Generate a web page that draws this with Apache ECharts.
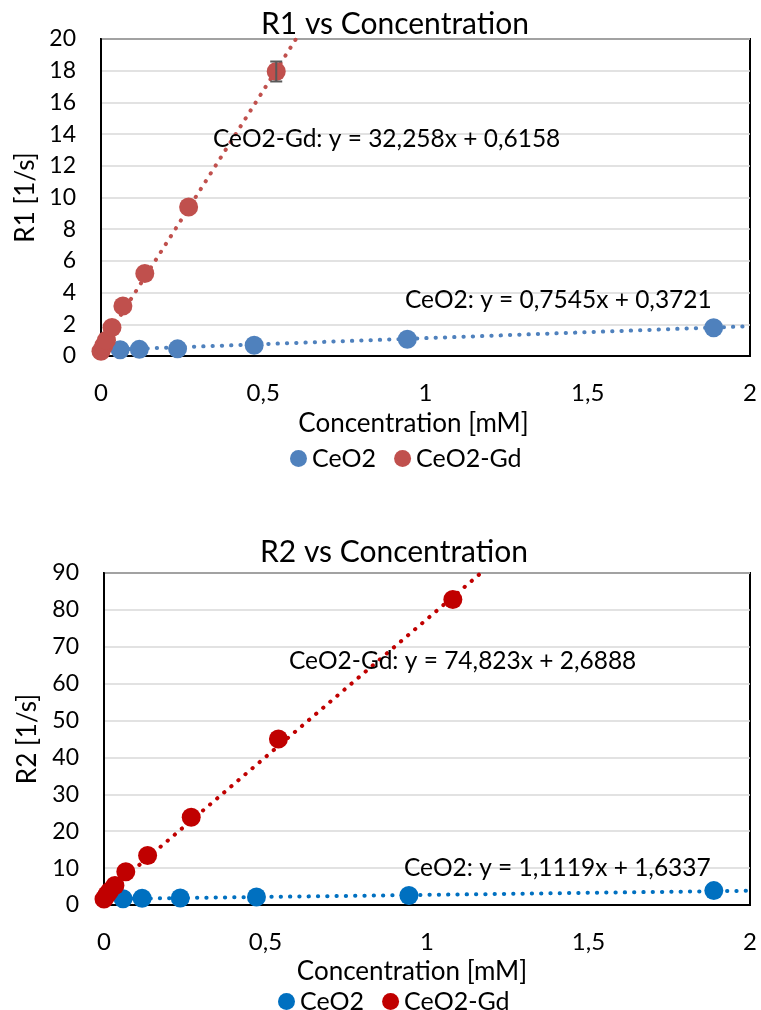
<!DOCTYPE html>
<html>
<head>
<meta charset="utf-8">
<script src="https://cdn.jsdelivr.net/npm/echarts@6/dist/echarts.min.js"></script>
<style>
  body { margin: 0; background: #fff; }
  #r1, #r2 { position: absolute; left: 0; width: 761px; height: 505px; }
  #r1 { top: 0; }
  #r2 { top: 505px; }
</style>
</head>
<body>
<div id="r1"></div>
<div id="r2"></div>
<script>
// ---- data ----
var ceo2X = [0.059, 0.118, 0.236, 0.472, 0.944, 1.888];
var gdX1 = [0, 0.0084, 0.0169, 0.0338, 0.0675, 0.135, 0.27, 0.54];
var gdX2 = [0, 0.0084, 0.0169, 0.0338, 0.0675, 0.135, 0.27, 0.54, 1.08];

var r1Ceo2 = [0.40, 0.42, 0.45, 0.68, 1.06, 1.78];
var r1Gd = [0.3, 0.65, 1.0, 1.8, 3.15, 5.2, 9.4, 17.95];
var r1GdErr = [0, 0, 0, 0, 0, 0, 0, 0.63];

var r2Ceo2 = [1.7, 1.85, 1.9, 2.15, 2.6, 3.9];
var r2Gd = [1.6, 2.7, 3.7, 5.3, 9.0, 13.4, 23.8, 45.0, 82.8];

// trend lines (slope, intercept) from the equations
var r1Fit = { ceo2: [0.7545, 0.3721], gd: [32.258, 0.6158] };
var r2Fit = { ceo2: [1.1119, 1.6337], gd: [74.823, 2.6888] };
var trendX = [0, 2];

var FONT = 'Lato';

function pairs(xs, ys) { return xs.map(function (x, i) { return [x, ys[i]]; }); }
function trend(fit) { return trendX.map(function (x) { return [x, fit[0] * x + fit[1]]; }); }
function comma(v) { return String(v).replace('.', ','); }

function buildOption(cfg) {
  return {
    animation: false,
    title: {
      text: cfg.title, left: cfg.titleLeft, top: cfg.titleTop,
      textStyle: { fontFamily: FONT, fontSize: 30, fontWeight: 'normal', color: '#000' }
    },
    legend: {
      left: cfg.legendLeft, top: cfg.legendTop, icon: 'circle',
      itemWidth: 17, itemHeight: 17, itemGap: 18,
      textStyle: { fontFamily: FONT, fontSize: 25, color: '#000' },
      data: ['CeO2', 'CeO2-Gd']
    },
    grid: {
      left: cfg.gridLeft, right: 11, top: cfg.gridTop, height: cfg.gridHeight,
      show: true, borderColor: '#000', borderWidth: 2, backgroundColor: '#fff'
    },
    xAxis: {
      type: 'value', min: 0, max: 2, interval: 0.5,
      name: 'Concentration [mM]', nameLocation: 'middle', nameGap: cfg.xNameGap,
      nameTextStyle: { fontFamily: FONT, fontSize: 26, color: '#000', padding: [0, cfg.xNameShift, 0, 0] },
      axisLine: { lineStyle: { color: '#000', width: 2 } },
      axisTick: { show: false },
      splitLine: { show: false },
      axisLabel: { margin: 25, fontFamily: FONT, fontSize: 24, color: '#000', formatter: comma }
    },
    yAxis: {
      type: 'value', min: 0, max: cfg.yMax, interval: cfg.yStep,
      name: cfg.yName, nameLocation: 'middle', nameGap: cfg.yNameGap,
      nameTextStyle: { fontFamily: FONT, fontSize: 26, color: '#000' },
      axisLine: { show: true, lineStyle: { color: '#000', width: 2 } },
      axisTick: { show: false },
      splitLine: { lineStyle: { color: '#D9D9D9', width: 1.5 } },
      axisLabel: { margin: 25, fontFamily: FONT, fontSize: 23, color: '#000' }
    },
    graphic: cfg.notes.map(function (n) {
      return {
        type: 'text', left: n[1], top: n[2], z: 50,
        style: { text: n[0], font: '24.5px ' + FONT, fill: '#000' }
      };
    }),
    series: [
      {
        type: 'line', data: trend(cfg.fit.ceo2), showSymbol: false, z: 1, silent: true,
        lineStyle: { color: cfg.blue, width: 4, type: [0.3, 9], cap: 'round' }
      },
      {
        type: 'line', data: trend(cfg.fit.gd), showSymbol: false, z: 1, silent: true,
        lineStyle: { color: cfg.red, width: 4, type: [0.3, 9], cap: 'round' }
      },
      {
        name: 'CeO2', type: 'scatter', data: pairs(ceo2X, cfg.ceo2), symbolSize: 19, z: 3,
        itemStyle: { color: cfg.blue, opacity: 1 }
      },
      {
        name: 'CeO2-Gd', type: 'scatter', data: pairs(cfg.gdX, cfg.gd), symbolSize: 19, z: 4,
        itemStyle: { color: cfg.red, opacity: 1 }
      },
      {
        type: 'custom', z: 5, silent: true,
        data: cfg.gdX.map(function (x, i) { return [x, cfg.gd[i], cfg.err ? cfg.err[i] : 0]; }),
        renderItem: function (params, api) {
          var e = api.value(2);
          if (!e) return;
          var hi = api.coord([api.value(0), api.value(1) + e]);
          var lo = api.coord([api.value(0), api.value(1) - e]);
          var w = 6;
          var st = { stroke: '#595959', lineWidth: 2 };
          return {
            type: 'group', children: [
              { type: 'line', shape: { x1: hi[0], y1: hi[1], x2: lo[0], y2: lo[1] }, style: st },
              { type: 'line', shape: { x1: hi[0] - w, y1: hi[1], x2: hi[0] + w, y2: hi[1] }, style: st },
              { type: 'line', shape: { x1: lo[0] - w, y1: lo[1], x2: lo[0] + w, y2: lo[1] }, style: st }
            ]
          };
        }
      }
    ]
  };
}

var chart1 = echarts.init(document.getElementById('r1'));
chart1.setOption(buildOption({
  title: 'R1 vs Concentration', titleLeft: 256, titleTop: 4,
  legendLeft: 285, legendTop: 441,
  gridLeft: 101, gridTop: 39, gridHeight: 317,
  xNameGap: 55, xNameShift: 24, yMax: 20, yStep: 2, yName: 'R1 [1/s]', yNameGap: 60,
  fit: r1Fit, ceo2: r1Ceo2, gdX: gdX1, gd: r1Gd, err: r1GdErr,
  blue: '#4F81BD', red: '#C0504D',
  notes: [['CeO2-Gd: y = 32,258x + 0,6158', 213, 127], ['CeO2: y = 0,7545x + 0,3721', 405, 288]]
}));

var chart2 = echarts.init(document.getElementById('r2'));
chart2.setOption(buildOption({
  title: 'R2 vs Concentration', titleLeft: 255, titleTop: 27,
  legendLeft: 273, legendTop: 479,
  gridLeft: 104, gridTop: 68, gridHeight: 332,
  xNameGap: 49, xNameShift: 30, yMax: 90, yStep: 10, yName: 'R2 [1/s]', yNameGap: 63,
  fit: r2Fit, ceo2: r2Ceo2, gdX: gdX2, gd: r2Gd,
  blue: '#0070C0', red: '#C00000',
  notes: [['CeO2-Gd: y = 74,823x + 2,6888', 289, 144], ['CeO2: y = 1,1119x + 1,6337', 404, 351]]
}));
</script>
</body>
</html>
